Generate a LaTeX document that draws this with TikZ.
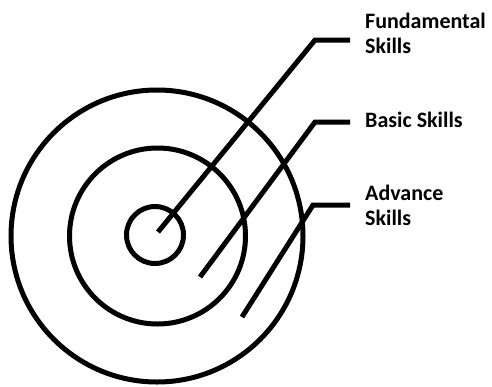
\documentclass[tikz,border=0pt]{standalone}
\usepackage{fontspec}
\setmainfont{Carlito}
\begin{document}
\begin{tikzpicture}[x=1pt,y=-1pt,
  ring/.style={draw=black,line width=5pt,circle,inner sep=0pt,minimum size=#1},
  leader/.style={draw=black,line width=5pt},
  label/.style={font=\bfseries\fontsize{22}{25}\selectfont,align=left,inner sep=0pt,anchor=base west}]
\useasboundingbox (0,0) rectangle (492,386);
\node[ring=292pt] (outer) at (157,236) {};
\node[ring=176pt] (middle) at (157.5,236) {};
\node[ring=57pt] (inner) at (155,235) {};
% leader coordinates
\coordinate (fA) at (158,232);
\coordinate (fB) at (315,40);
\coordinate (fC) at (350,40);
\coordinate (bA) at (200,277);
\coordinate (bB) at (315,122);
\coordinate (bC) at (350,122);
\coordinate (aA) at (242,317);
\coordinate (aB) at (313,205);
\coordinate (aC) at (350,205);
\draw[leader] (fA) -- (fB) -- (fC);
\draw[leader] (bA) -- (bB) -- (bC);
\draw[leader] (aA) -- (aB) -- (aC);
\node[label] (fund) at (365,53) {Fundamental\\Skills};
\node[label] (basic) at (365,127) {Basic Skills};
\node[label] (adv) at (365,225) {Advance\\Skills};
\end{tikzpicture}
\end{document}
